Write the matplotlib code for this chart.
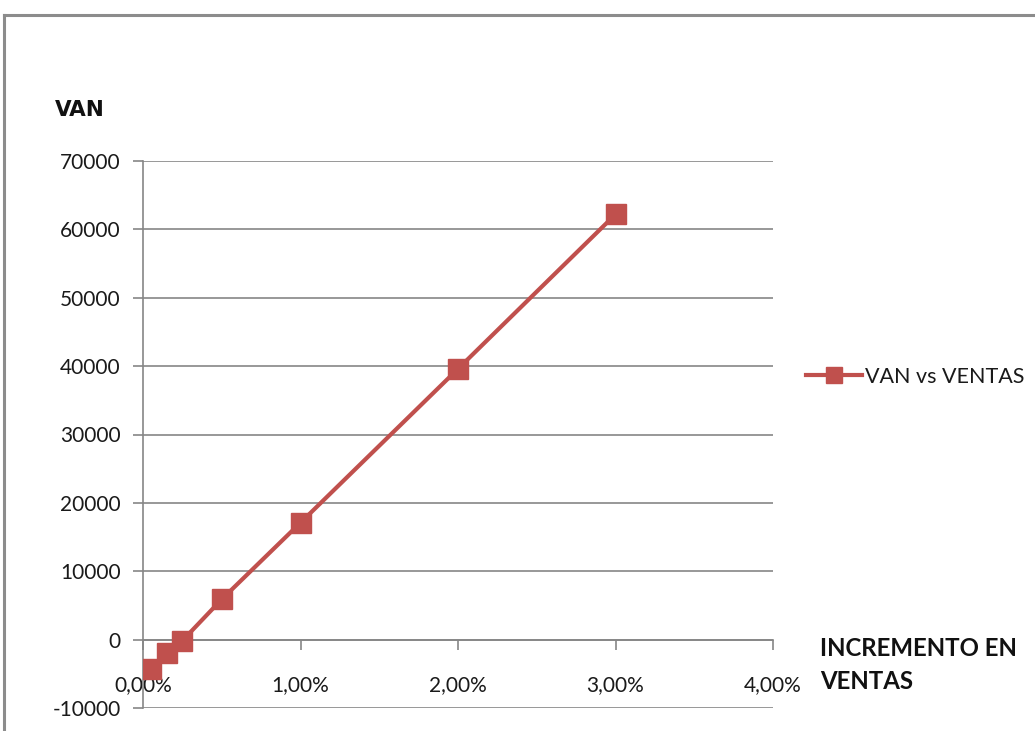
import matplotlib
matplotlib.use('Agg')
import matplotlib.pyplot as plt
from matplotlib.lines import Line2D
from matplotlib.ticker import FuncFormatter

# datos
incremento = [0.0005, 0.0015, 0.0025, 0.005, 0.01, 0.02, 0.03]
van = [-4300, -2000, -150, 5900, 17100, 39600, 62200]
y_ticks = [-10000, 0, 10000, 20000, 30000, 40000, 50000, 60000, 70000]
x_ticks = [0.0, 0.01, 0.02, 0.03, 0.04]
serie = 'VAN vs VENTAS'

rojo = '#C0504D'
gris = '#868686'
fuente = ['Lato', 'DejaVu Sans']

plt.rcParams['axes.unicode_minus'] = False

fig = plt.figure(figsize=(10.35, 7.31), dpi=100)
fig.patch.set_facecolor('white')

# marco del area del grafico (solo arriba e izquierda se ven)
fig.add_artist(Line2D([4/1035, 1.0], [1 - 15/731, 1 - 15/731], color='#8c8c8c', lw=2.2))
fig.add_artist(Line2D([4/1035, 4/1035], [0, 1 - 15/731], color='#8c8c8c', lw=2.2))

ax = fig.add_axes([143/1035, 23/731, 630/1035, 547/731])
ax.plot(incremento, van, color=rojo, lw=3, marker='s', ms=14,
        markerfacecolor=rojo, markeredgecolor=rojo, label=serie, zorder=3)

ax.set_xlim(0, 0.04)
ax.set_ylim(-10000, 70000)
ax.set_yticks(y_ticks)
ax.set_xticks(x_ticks)
ax.yaxis.grid(True, color=gris, lw=1.2)
ax.set_axisbelow(True)

for s in ['top', 'right']:
    ax.spines[s].set_visible(False)
ax.spines['bottom'].set_position(('data', 0))
ax.spines['bottom'].set_color(gris)
ax.spines['left'].set_color(gris)
ax.spines['bottom'].set_linewidth(1.2)
ax.spines['left'].set_linewidth(1.2)

ax.tick_params(axis='y', direction='out', length=7.2, width=1.2, color=gris,
               pad=9, labelsize=15, labelcolor='#1a1a1a')
ax.tick_params(axis='x', direction='out', length=7.2, width=1.2, color=gris,
               pad=18, labelsize=15, labelcolor='#1a1a1a')
ax.xaxis.set_major_formatter(FuncFormatter(lambda v, p: ('%.2f%%' % (v * 100)).replace('.', ',')))
for lab in ax.get_xticklabels() + ax.get_yticklabels():
    lab.set_family(fuente)

fig.text(55/1035, 1 - 110/731, 'VAN', fontsize=15.5, fontweight='bold',
         family='DejaVu Sans', va='center', ha='left', color='#111111')
fig.text(820/1035, 1 - 665/731, 'INCREMENTO EN\nVENTAS', fontsize=17.3, fontweight='bold',
         family=fuente, va='center', ha='left', linespacing=1.55, color='#111111')

leg = ax.legend(loc='center left', bbox_to_anchor=(806/1035, 1 - 377/731),
                bbox_transform=fig.transFigure, frameon=False, handlelength=2.6,
                handletextpad=0.15, borderaxespad=0, borderpad=0,
                prop={'family': fuente, 'size': 15.5}, markerscale=0.8)
for t in leg.get_texts():
    t.set_color('#1a1a1a')

fig.savefig('out.png', dpi=100, facecolor='white')
